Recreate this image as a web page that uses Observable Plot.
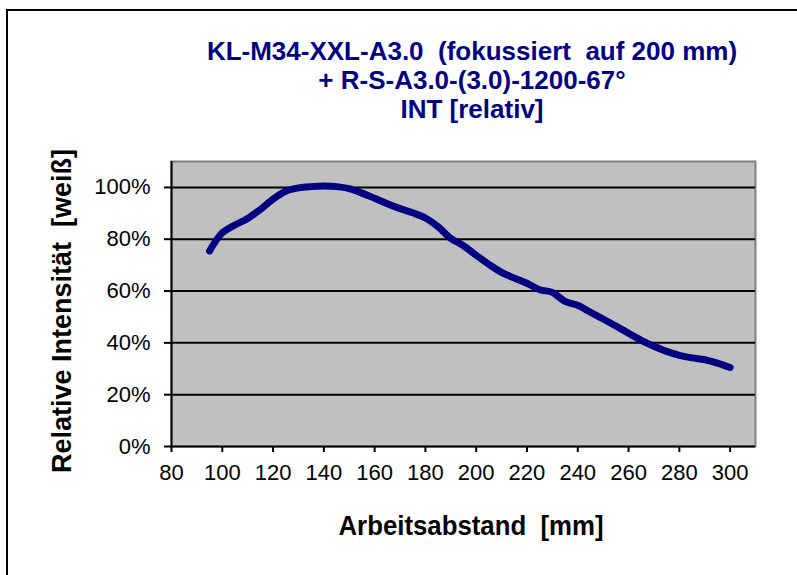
<!DOCTYPE html>
<html>
<head>
<meta charset="utf-8">
<script src="https://cdn.jsdelivr.net/npm/d3@7"></script>
<script src="https://cdn.jsdelivr.net/npm/@observablehq/plot@0.6"></script>
<style>
  html, body { margin: 0; padding: 0; background: #fff; }
  #wrap { position: relative; width: 797px; height: 575px; overflow: hidden; font-family: "Liberation Sans", Arial, sans-serif; }
  #frame { position: absolute; left: 6px; top: 9px; width: 900px; height: 700px; border: 2px solid #000; box-sizing: border-box; }
  .t { position: absolute; white-space: pre; font-weight: bold; }
  #title { left: 0; width: 944px; top: 37px; text-align: center; color: #000080; font-size: 26px; line-height: 29px; }
  #xlabel { left: 471px; top: 526px; color: #000; font-size: 27px; transform: translate(-50%, -50%) scaleX(0.955); }
  #ylabel { left: 62px; top: 311px; color: #000; font-size: 27px; transform: translate(-50%, -50%) rotate(-90deg); }
  #chart { position: absolute; left: 0; top: 0; }
</style>
</head>
<body>
<div id="wrap">
  <div id="frame"></div>
  <div id="chart"></div>
  <div id="title" class="t"></div>
  <div id="xlabel" class="t"></div>
  <div id="ylabel" class="t"></div>
</div>
<script>
const titleLines = ["KL-M34-XXL-A3.0  (fokussiert  auf 200 mm)", "+ R-S-A3.0-(3.0)-1200-67°", "INT [relativ]"];
const xLabel = "Arbeitsabstand  [mm]";
const yLabel = "Relative Intensität  [weiß]";

const distance = [95, 100, 105, 110, 115, 120, 125, 130, 135, 140, 145, 150, 155, 160, 165, 170, 175, 180, 185, 190, 195, 200,
                  205, 210, 215, 220, 225, 230, 235, 240, 245, 250, 255, 260, 265, 270, 275, 280, 285, 290, 295, 300];
const intensity = [0.755, 0.825, 0.855, 0.88, 0.915, 0.955, 0.985, 0.998, 1.003, 1.005, 1.003, 0.995, 0.978, 0.958, 0.937, 0.918, 0.902, 0.882, 0.848, 0.803, 0.775, 0.738,
                   0.703, 0.672, 0.650, 0.630, 0.605, 0.595, 0.560, 0.545, 0.518, 0.492, 0.465, 0.437, 0.410, 0.387, 0.367, 0.352, 0.342, 0.335, 0.322, 0.305];
const xTicks = [80, 100, 120, 140, 160, 180, 200, 220, 240, 260, 280, 300];
const yTicks = [0, 0.2, 0.4, 0.6, 0.8, 1.0];

const data = distance.map((d, i) => ({x: d, y: intensity[i]}));

document.getElementById("title").innerHTML = titleLines.join("\n");
document.getElementById("xlabel").textContent = xLabel;
document.getElementById("ylabel").textContent = yLabel;

const chart = Plot.plot({
  width: 797,
  height: 575,
  marginLeft: 171,
  marginRight: 42,
  marginTop: 161,
  marginBottom: 129,
  style: {fontFamily: "Liberation Sans, Arial, sans-serif", fontSize: "22px", color: "#000", background: "transparent"},
  x: {domain: [80, 310], ticks: xTicks, label: null},
  y: {domain: [0, 1.1], ticks: yTicks, label: null},
  marks: [
    Plot.frame({fill: "#C0C0C0", stroke: "#808080", strokeWidth: 2}),
    Plot.gridY(yTicks.filter(d => d > 0), {stroke: "#000", strokeOpacity: 1, strokeWidth: 2}),
    Plot.ruleX([80], {stroke: "#000", strokeWidth: 2}),
    Plot.ruleY([0], {stroke: "#000", strokeWidth: 2}),
    Plot.axisX({ticks: xTicks, tickSize: 6, tickPadding: 12, tickFormat: d => String(d), label: null, fontSize: 22, strokeWidth: 2}),
    Plot.axisY({ticks: yTicks, tickSize: 7, tickPadding: 14, tickFormat: d => Math.round(d * 100) + "%", label: null, fontSize: 22, strokeWidth: 2}),
    Plot.line(data, {x: "x", y: "y", stroke: "#000080", strokeWidth: 7, curve: "catmull-rom", strokeLinecap: "round", strokeLinejoin: "round"})
  ]
});
document.getElementById("chart").appendChild(chart);
</script>
</body>
</html>
